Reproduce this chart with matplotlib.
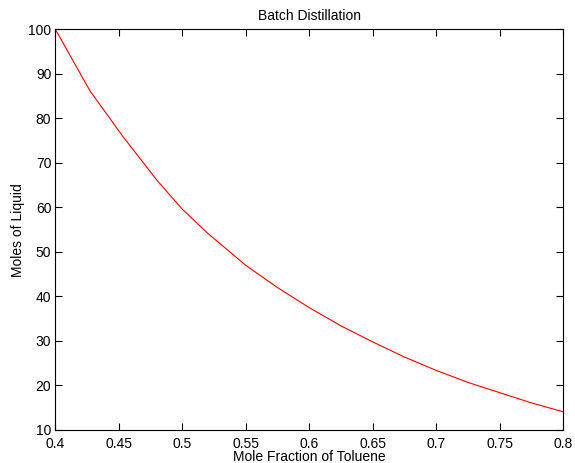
import matplotlib
matplotlib.use("Agg")
import matplotlib.pyplot as plt

plt.rcParams['font.family'] = ['Liberation Sans', 'DejaVu Sans']

mole_fraction = [0.400, 0.427, 0.453, 0.480, 0.500, 0.520, 0.550, 0.575, 0.600,
                 0.625, 0.650, 0.675, 0.700, 0.725, 0.750, 0.775, 0.800]
moles_liquid = [100.0, 86.3, 76.0, 66.1, 59.6, 54.2, 47.0, 42.0, 37.5,
                33.4, 29.8, 26.4, 23.4, 20.7, 18.4, 16.1, 14.1]
x_ticks = [0.4, 0.45, 0.5, 0.55, 0.6, 0.65, 0.7, 0.75, 0.8]
x_tick_labels = ['0.4', '0.45', '0.5', '0.55', '0.6', '0.65', '0.7', '0.75', '0.8']
y_ticks = [10, 20, 30, 40, 50, 60, 70, 80, 90, 100]

fig = plt.figure(figsize=(5.75, 4.63), dpi=100)
ax = fig.add_axes([0.0965, 0.0713, 0.8826, 0.865])
ax.plot(mole_fraction, moles_liquid, color='#ff0000', linewidth=0.8)
ax.set_xlim(0.4, 0.8)
ax.set_ylim(10, 100)
ax.set_xticks(x_ticks)
ax.set_xticklabels(x_tick_labels)
ax.set_yticks(y_ticks)
ax.tick_params(direction='in', length=5, width=0.8, top=True, right=True,
               labelsize=10, colors='black')
ax.tick_params(axis='x', pad=5)
ax.tick_params(axis='y', pad=3)
for s in ax.spines.values():
    s.set_linewidth(0.8)
ax.set_title('Batch Distillation', fontsize=10, pad=7)
ax.set_xlabel('Mole Fraction of Toluene', fontsize=10, labelpad=-1)
ax.set_ylabel('Moles of Liquid', fontsize=10, labelpad=2)
fig.savefig('out.png', dpi=100)
